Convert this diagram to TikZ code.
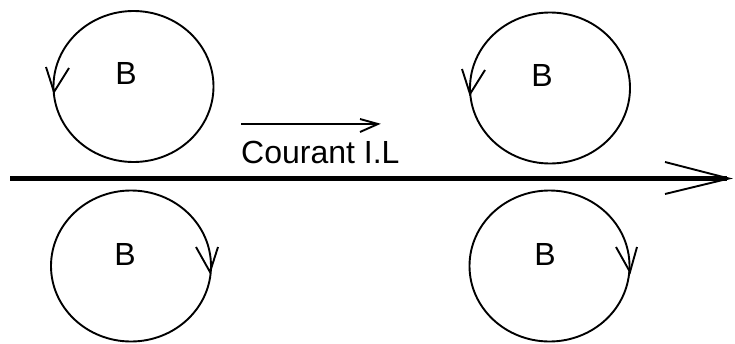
\documentclass[tikz,border=0pt]{standalone}
\usepackage{fontspec}
\setmainfont{Liberation Sans}
\usetikzlibrary{shapes.geometric}
\tikzset{
  loopring/.style={draw=black,ellipse,line width=1.9pt,minimum width=160pt,minimum height=151pt,inner sep=0pt,outer sep=0pt},
  barbs/.style={draw=black,line width=1.9pt,line join=miter},
  lab/.style={font=\fontsize{32}{32}\selectfont,inner sep=0pt,text=black,anchor=base}
}
\begin{document}
\begin{tikzpicture}[x=1pt,y=-1pt]
\useasboundingbox (0,0) rectangle (735,343);
\node[loopring] (c1) at (133.5,86.5) {};
\node[loopring] (c2) at (131,266) {};
\node[loopring] (c3) at (550,88) {};
\node[loopring] (c4) at (549.5,266) {};
\node[lab] (b1) at (126,84) {B};
\node[lab] (b2) at (125,265) {B};
\node[lab] (b3) at (542,86) {B};
\node[lab] (b4) at (545,265) {B};
\node[lab,anchor=base west] (cl) at (241,163) {Courant I.L};
% main wire
\coordinate (ws) at (10,178.5);
\coordinate (we) at (727,178.5);
\draw[line width=5pt] (ws) -- (we);
\coordinate (wa) at (665,162);
\coordinate (wb) at (665,194);
\coordinate (wt) at (729,178.5);
\draw[barbs] (wa) -- (wt) -- (wb);
% current arrow
\coordinate (is) at (241,124);
\coordinate (it) at (378,124);
\coordinate (ia) at (360,119);
\coordinate (ib) at (360,132);
\draw[barbs] (is) -- (it);
\draw[barbs] (ia) -- (it) -- (ib);
% ring arrowheads
\coordinate (t1) at (54,92);
\coordinate (a1) at (46,67);
\coordinate (d1) at (69,68);
\draw[barbs] (a1) -- (t1) -- (d1);
\coordinate (t2) at (210,272);
\coordinate (a2) at (196,247);
\coordinate (d2) at (218,247);
\draw[barbs] (a2) -- (t2) -- (d2);
\coordinate (t3) at (470,94);
\coordinate (a3) at (462,69);
\coordinate (d3) at (485,70);
\draw[barbs] (a3) -- (t3) -- (d3);
\coordinate (t4) at (630,272);
\coordinate (a4) at (616,247);
\coordinate (d4) at (637,247);
\draw[barbs] (a4) -- (t4) -- (d4);
\end{tikzpicture}
\end{document}
